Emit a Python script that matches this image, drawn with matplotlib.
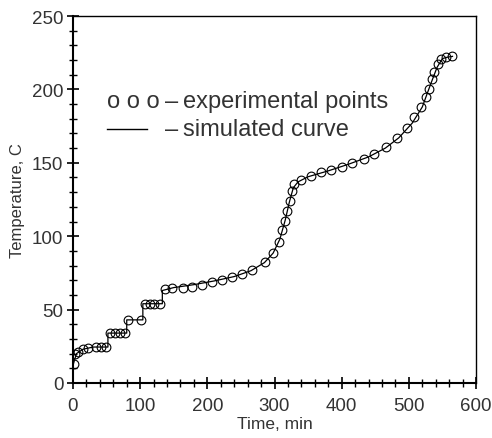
import matplotlib
matplotlib.use("Agg")
import matplotlib.pyplot as plt
from matplotlib.ticker import MultipleLocator

plt.rcParams['font.family'] = ['Liberation Sans', 'DejaVu Sans']

# === experimental points ===
exp_time = [2, 3, 7, 15, 22, 34, 42, 49, 55, 62, 70, 77, 82, 101,
            107, 114, 121, 129, 137, 147, 164, 177, 192, 207, 222, 237,
            252, 267, 286, 298, 306, 311, 316, 319, 323, 326, 329, 339,
            354, 369, 384, 400, 416, 433, 448, 466, 483, 498, 508, 518,
            525, 530, 535, 538, 543, 548, 555, 565]
exp_temp = [13, 20, 21, 23, 24, 24.5, 24.5, 24.5, 34, 34, 34, 34, 43, 43,
            54, 54, 54, 54, 64, 64.5, 64.5, 65.6, 67, 68.6, 70.4, 72,
            74, 77, 82.5, 88.5, 96, 104, 110.6, 117, 124, 131, 135.6, 138,
            141, 143.5, 145, 147, 150, 152.5, 156, 160.5, 167, 174, 181, 188,
            194.6, 200, 207, 211.6, 217, 220.7, 222, 222.5]

# === simulated curve ===
sim_time = [0, 5, 15, 30, 52, 52, 80, 80, 104, 104, 133, 133, 150, 180,
            210, 240, 265, 285, 298, 308, 316, 322, 328, 335, 350, 380,
            410, 440, 465, 485, 505, 520, 532, 542, 550, 558, 565]
sim_temp = [12, 20, 23, 24.5, 24.5, 34, 34, 43, 43, 54, 54, 63, 65, 67,
            69.5, 72.5, 76.5, 82, 88.5, 98, 111, 123, 133, 137, 140.5, 144.5,
            149, 154, 160, 167, 177, 188, 203, 215, 221, 222, 222.5]

X_LIM = (0, 600)
Y_LIM = (0, 250)
TEXT_COLOR = '#333333'

fig = plt.figure(figsize=(4.92, 4.39), dpi=100)
ax = fig.add_axes([73 / 492, 1 - 384 / 439, 403 / 492, 367 / 439])

ax.plot(sim_time, sim_temp, color='black', lw=0.9, zorder=2)
ax.plot(exp_time, exp_temp, ls='none', marker='o', ms=6.3, mfc='none',
        mec='black', mew=0.8, zorder=3)

ax.set_xlim(*X_LIM)
ax.set_ylim(*Y_LIM)
ax.xaxis.set_major_locator(MultipleLocator(100))
ax.xaxis.set_minor_locator(MultipleLocator(20))
ax.yaxis.set_major_locator(MultipleLocator(50))
ax.yaxis.set_minor_locator(MultipleLocator(10))

ax.tick_params(which='major', direction='inout', length=8, width=1.2,
               labelsize=13.5, labelcolor=TEXT_COLOR, top=False, right=False)
ax.tick_params(which='minor', direction='inout', length=6, width=1.0,
               top=False, right=False)
ax.tick_params(axis='x', which='major', pad=6)
ax.tick_params(axis='y', which='major', pad=3)

for side in ['left', 'bottom']:
    ax.spines[side].set_linewidth(1.5)
for side in ['top', 'right']:
    ax.spines[side].set_linewidth(1.0)

ax.set_xlabel('Time, min', fontsize=12.5, color=TEXT_COLOR)
ax.set_ylabel('Temperature, C', fontsize=12, color=TEXT_COLOR)
ax.xaxis.set_label_coords(0.5, -0.09)
ax.yaxis.set_label_coords(-0.119, 0.5)

# hand-made legend, as in the original
LEG_SIZE = 17
ax.text(0.084, 0.752, 'o o o', transform=ax.transAxes, fontsize=LEG_SIZE,
        color=TEXT_COLOR, va='baseline', ha='left')
ax.plot([0.084, 0.184], [0.692, 0.692], transform=ax.transAxes,
        color='black', lw=1.0)
for y, label in [(0.752, 'experimental points'), (0.676, 'simulated curve')]:
    ax.text(0.228, y, '\u2013', transform=ax.transAxes, fontsize=LEG_SIZE,
            color=TEXT_COLOR, va='baseline', ha='left')
    ax.text(0.272, y, label, transform=ax.transAxes, fontsize=LEG_SIZE,
            color=TEXT_COLOR, va='baseline', ha='left')

fig.savefig('out.png', dpi=100)
